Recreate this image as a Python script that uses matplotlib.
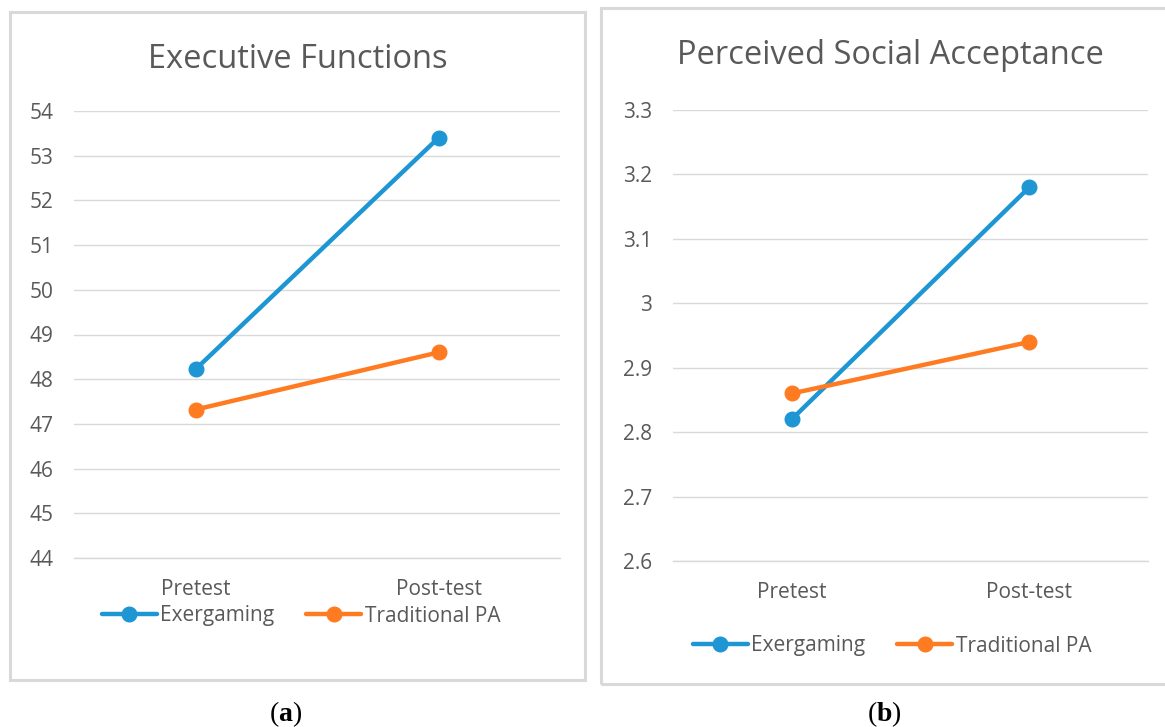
import matplotlib
matplotlib.use("Agg")
import matplotlib.pyplot as plt
from matplotlib.patches import Rectangle

# ---- data ----
categories = ["Pretest", "Post-test"]
series_names = ["Exergaming", "Traditional PA"]

ef_exergaming = [48.22, 53.40]
ef_traditional = [47.32, 48.60]
ef_ticks = [44, 45, 46, 47, 48, 49, 50, 51, 52, 53, 54]

psa_exergaming = [2.82, 3.18]
psa_traditional = [2.86, 2.94]
psa_ticks = [2.6, 2.7, 2.8, 2.9, 3.0, 3.1, 3.2, 3.3]
psa_ticklabels = ["2.6", "2.7", "2.8", "2.9", "3", "3.1", "3.2", "3.3"]

titles = ["Executive Functions", "Perceived Social Acceptance"]
panel_letters = ["a", "b"]

BLUE = "#1E96D4"
ORANGE = "#FF7B22"
GRID = "#D9D9D9"
TXT = "#595959"
FONT = ["Open Sans", "DejaVu Sans"]

plt.rcParams["font.family"] = FONT
plt.rcParams["mathtext.fontset"] = "custom"
plt.rcParams["mathtext.rm"] = "Liberation Serif"
plt.rcParams["mathtext.bf"] = "Liberation Serif:bold"

W, H = 1165, 727
fig = plt.figure(figsize=(W / 100, H / 100), dpi=100)

def fx(px):
    return px / W

def fy(py):
    return 1 - py / H

# panel border boxes
for (x0, y0, x1, y1) in [(10, 12, 585, 680), (601, 8, 1175, 684)]:
    fig.patches.append(Rectangle((fx(x0), fy(y1)), fx(x1 - x0), (y1 - y0) / H,
                                 transform=fig.transFigure, fill=False,
                                 edgecolor=GRID, linewidth=2.2))

def make_panel(rect, ex, tr, ticks, ticklabels, title, title_xy, legend_y, legend_x,
               letter, letter_xy):
    ax = fig.add_axes(rect)
    x = list(range(len(categories)))
    ax.plot(x, ex, color=BLUE, lw=3.2, marker="o", ms=10.5, label=series_names[0],
            solid_capstyle="round", zorder=3)
    ax.plot(x, tr, color=ORANGE, lw=3.2, marker="o", ms=10.5, label=series_names[1],
            solid_capstyle="round", zorder=3)
    ax.set_xlim(-0.5, len(categories) - 0.5)
    ax.set_ylim(ticks[0], ticks[-1])
    ax.set_yticks(ticks)
    ax.set_yticklabels(ticklabels)
    ax.set_xticks(x)
    ax.set_xticklabels(categories)
    ax.grid(axis="y", color=GRID, lw=1.0)
    ax.set_axisbelow(True)
    for s in ["top", "right", "left"]:
        ax.spines[s].set_visible(False)
    ax.spines["bottom"].set_color(GRID)
    ax.spines["bottom"].set_linewidth(1.0)
    ax.tick_params(axis="both", length=0, colors=TXT, labelsize=15)
    ax.tick_params(axis="y", pad=15)
    ax.tick_params(axis="x", pad=15)
    fig.text(fx(title_xy[0]), fy(title_xy[1]), title, ha="center", va="center",
             fontsize=23.5, color=TXT)
    ax.legend(loc="center", bbox_to_anchor=(fx(legend_x), fy(legend_y)),
              bbox_transform=fig.transFigure, ncol=2, frameon=False,
              fontsize=15, handlelength=2.64, handletextpad=0.15,
              columnspacing=1.55, labelcolor=TXT)
    # panel label
    fig.text(fx(letter_xy[0]), fy(letter_xy[1]), "($\\mathbf{%s}$)" % letter,
             ha="center", va="center", fontsize=20, color="black",
             family="Liberation Serif")
    return ax

make_panel([fx(74), fy(558), fx(560 - 74), (558 - 111) / H],
           ef_exergaming, ef_traditional, ef_ticks, [str(t) for t in ef_ticks],
           titles[0], (298, 60), 616, 301, panel_letters[0], (286, 714))
make_panel([fx(673), fy(561), fx(1148 - 673), (561 - 110) / H],
           psa_exergaming, psa_traditional, psa_ticks, psa_ticklabels,
           titles[1], (890, 56), 646, 892, panel_letters[1], (884, 714))

fig.savefig("out.png", dpi=100)
